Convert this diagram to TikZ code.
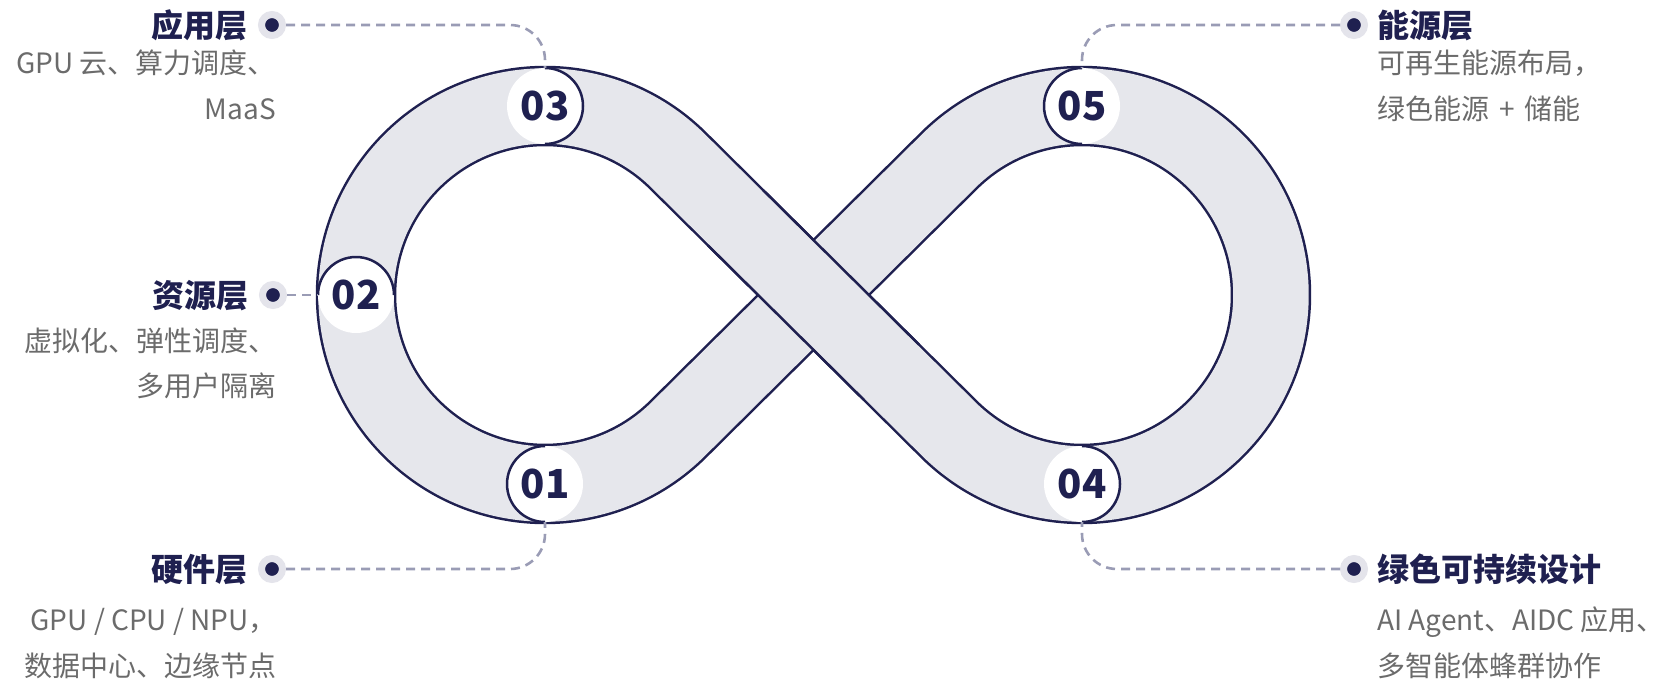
\documentclass[tikz,border=0pt]{standalone}
\usepackage{fontspec}
\setmainfont{Noto Sans CJK SC}
\definecolor{navy}{HTML}{1F2050}
\definecolor{bandfill}{HTML}{E6E7EC}
\definecolor{descgray}{HTML}{6B6B6B}
\definecolor{halo}{HTML}{E4E4EB}
\definecolor{dashcol}{HTML}{9A9CB5}
\begin{document}
\begin{tikzpicture}[x=1pt,y=1pt,
  band/.style={draw=navy, line width=2.5pt, double=bandfill, double distance=75.5pt},
  edgeline/.style={draw=navy, line width=2.5pt},
  num/.style={circle, fill=white, minimum size=76pt, inner sep=0pt, outer sep=0pt, text=navy, font=\fontsize{40}{42}\selectfont\bfseries},
  numarc/.style={draw=navy, line width=2.5pt},
  dotnode/.style={circle, fill=navy, draw=halo, line width=7pt, minimum size=21pt, inner sep=0pt, outer sep=3.5pt},
  conn/.style={draw=dashcol, line width=2.6pt, dash pattern=on 9pt off 6pt, rounded corners=35pt},
  ttl/.style={text=navy, font=\fontsize{32}{38}\selectfont\bfseries, inner sep=0pt},
  desc/.style={text=descgray, font=\fontsize{28}{34}\selectfont, inner sep=0pt}]
\useasboundingbox (0,0) rectangle (1665,-681);
% infinity band
\draw[band] (813.5,-295) -- (948.96,-160.75)
  arc[start angle=134.74, end angle=-134.74, radius=189pt]
  -- (678.04,-160.75)
  arc[start angle=45.26, end angle=314.74, radius=189pt]
  -- cycle;
% the 03-04 strip passes over the 01-05 strip
\begin{scope}[shift={(813.5,-295)}, rotate=-44.74]
  \fill[bandfill] (-110,-37.8) rectangle (110,37.8);
  \draw[edgeline] (-110,39) -- (110,39);
  \draw[edgeline] (-110,-39) -- (110,-39);
\end{scope}
% number circles
\node[num] (n3) at (545,-106) {03};
\node[num] (n1) at (545,-484) {01};
\node[num] (n2) at (356,-295) {02};
\node[num] (n5) at (1082,-106) {05};
\node[num] (n4) at (1082,-484) {04};
\draw[numarc] (n3.north) arc[start angle=90, end angle=-90, radius=38pt];
\draw[numarc] (n4.north) arc[start angle=90, end angle=-90, radius=38pt];
\draw[numarc] (n1.north) arc[start angle=90, end angle=270, radius=38pt];
\draw[numarc] (n5.north) arc[start angle=90, end angle=270, radius=38pt];
\draw[numarc] (n2.east) arc[start angle=0, end angle=180, radius=38pt];
% dots
\node[dotnode] (d3) at (272,-25) {};
\node[dotnode] (d2) at (273,-295) {};
\node[dotnode] (d1) at (272,-569) {};
\node[dotnode] (d5) at (1354,-25) {};
\node[dotnode] (d4) at (1354,-569) {};
% connectors
\draw[conn] (d3.east) -| (n3.north);
\draw[conn] (d2.east) -- (n2.west);
\draw[conn] (d1.east) -| (n1.south);
\draw[conn] (d5.west) -| (n5.north);
\draw[conn] (d4.west) -| (n4.south);
% left texts
\node[ttl, anchor=base east] (t3) at (248,-37) {应用层};
\node[desc, anchor=base east] (a3) at (276,-73) {GPU 云、算力调度、};
\node[desc, anchor=base east] (b3) at (276,-119) {MaaS};
\node[ttl, anchor=base east] (t2) at (249,-307) {资源层};
\node[desc, anchor=base east] (a2) at (277,-351) {虚拟化、弹性调度、};
\node[desc, anchor=base east] (b2) at (277,-396) {多用户隔离};
\node[ttl, anchor=base east] (t1) at (248,-581) {硬件层};
\node[desc, anchor=base east] (a1) at (277,-630) {GPU / CPU / NPU，};
\node[desc, anchor=base east] (b1) at (277,-676) {数据中心、边缘节点};
% right texts
\node[ttl, anchor=base west] (t5) at (1377,-37) {能源层};
\node[desc, anchor=base west] (a5) at (1377,-73) {可再生能源布局，};
\node[desc, anchor=base west] (b5) at (1377,-119) {绿色能源\hspace{10pt}+\hspace{10pt}储能};
\node[ttl, anchor=base west] (t4) at (1377,-581) {绿色可持续设计};
\node[desc, anchor=base west] (a4) at (1377,-630) {AI Agent、AIDC 应用、};
\node[desc, anchor=base west] (b4) at (1377,-676) {多智能体蜂群协作};
\end{tikzpicture}
\end{document}
